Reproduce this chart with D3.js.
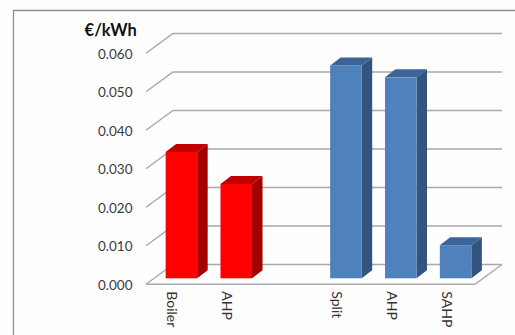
<!DOCTYPE html>
<html>
<head>
<meta charset="utf-8">
<script src="https://cdn.jsdelivr.net/npm/d3@7/dist/d3.min.js"></script>
<style>
  html, body { margin: 0; padding: 0; background: #fefefe; }
  svg { display: block; }
  text { font-family: Lato, "Open Sans", sans-serif; }
</style>
</head>
<body>
<svg id="chart" width="515" height="335"></svg>
<script>
// Cost per kWh for each system; the blank slot separates the two groups.
const slots = ["a", "b", "gap", "c", "d", "e"];
const categories = ["Boiler", "AHP", "", "Split", "AHP", "SAHP"];
const values = [0.0328, 0.0245, null, 0.0553, 0.0522, 0.0086];
const groups = ["red", "red", null, "blue", "blue", "blue"];
const yTicks = [0, 0.01, 0.02, 0.03, 0.04, 0.05, 0.06];
const unitLabel = "€/kWh";

const palette = {
  red: { front: "#ff0000", top: "#c00000", side: "#a40000" },
  blue: { front: "#4f81bd", top: "#3c6496", side: "#32547e" }
};

const svg = d3.select("#chart");

// Front plane of the oblique box, and the shift to its back wall.
const plot = { left: 146, right: 475, bottom: 284.3, top: 53.3 };
const wall = { dx: 27, dy: -19.8 };
// Where the bars stand on the floor, and how deep they are.
const barInset = { dx: 8, dy: -6 };
const barDepth = { dx: 10.5, dy: -8 };

const x = d3.scaleBand().domain(slots).range([plot.left, plot.right]).paddingInner(0.425).paddingOuter(0.2125);
const y = d3.scaleLinear().domain([0, 0.06]).range([plot.bottom, plot.top]);

// Chart frame: only the top and left edges fall inside the view.
svg.append("path")
  .attr("d", d3.line()([[515, 10.5], [13.5, 10.5], [13.5, 335]]))
  .attr("fill", "none")
  .attr("stroke", "#8f8f8f")
  .attr("stroke-width", 1.3);

// Gridlines run along the back wall and fold forward down the left side.
const gridColor = "#a8a8a8";
svg.append("g").selectAll("path").data(yTicks).join("path")
  .attr("d", d => d3.line()([
    [plot.left, y(d)],
    [plot.left + wall.dx, y(d) + wall.dy],
    [plot.right + wall.dx, y(d) + wall.dy]
  ]))
  .attr("fill", "none")
  .attr("stroke", gridColor)
  .attr("stroke-width", 1.4);

// Front and right edges of the floor.
svg.append("path")
  .attr("d", d3.line()([
    [plot.left, plot.bottom],
    [plot.right, plot.bottom],
    [plot.right + wall.dx, plot.bottom + wall.dy]
  ]))
  .attr("fill", "none")
  .attr("stroke", gridColor)
  .attr("stroke-width", 1.4);

// Extruded bars: front, top and right faces.
const bars = d3.range(slots.length).filter(i => values[i] !== null).map(i => {
  const x0 = x(slots[i]) + barInset.dx;
  const x1 = x0 + x.bandwidth();
  const yTop = y(values[i]) + barInset.dy;
  const yBase = y(0) + barInset.dy;
  return { x0, x1, yTop, yBase, colors: palette[groups[i]] };
});

const barG = svg.append("g").selectAll("g").data(bars).join("g");
barG.append("path")
  .attr("fill", d => d.colors.side)
  .attr("d", d => d3.line()([
    [d.x1, d.yTop],
    [d.x1 + barDepth.dx, d.yTop + barDepth.dy],
    [d.x1 + barDepth.dx, d.yBase + barDepth.dy],
    [d.x1, d.yBase]
  ]) + "Z");
barG.append("path")
  .attr("fill", d => d.colors.top)
  .attr("d", d => d3.line()([
    [d.x0, d.yTop],
    [d.x0 + barDepth.dx, d.yTop + barDepth.dy],
    [d.x1 + barDepth.dx, d.yTop + barDepth.dy],
    [d.x1, d.yTop]
  ]) + "Z");
barG.append("rect")
  .attr("x", d => d.x0)
  .attr("y", d => d.yTop)
  .attr("width", d => d.x1 - d.x0)
  .attr("height", d => d.yBase - d.yTop)
  .attr("fill", d => d.colors.front);

// Value axis labels.
const yAxis = svg.append("g")
  .attr("transform", `translate(${plot.left},0.5)`)
  .call(d3.axisLeft(y).tickValues(yTicks).tickFormat(d3.format(".3f")).tickSize(0).tickPadding(13.5));
yAxis.select(".domain").remove();
yAxis.selectAll("text")
  .attr("fill", "#3a3a3a")
  .style("font-size", "13.5px")
  .style("font-family", "Lato, sans-serif");

// Category labels, turned to read downward below the floor.
const xAxis = svg.append("g")
  .attr("transform", `translate(0,${plot.bottom})`)
  .call(d3.axisBottom(x).tickFormat((d, i) => categories[i]).tickSize(0));
xAxis.select(".domain").remove();
xAxis.selectAll("text")
  .attr("transform", "translate(-1.5,7) rotate(90)")
  .attr("text-anchor", "start")
  .attr("x", 0)
  .attr("y", 0)
  .attr("dy", "0.32em")
  .attr("fill", "#333333")
  .style("font-size", "14px")
  .style("font-family", "Lato, sans-serif");

// Unit caption above the value axis.
svg.append("text")
  .attr("x", 136.8)
  .attr("y", 36)
  .attr("text-anchor", "end")
  .attr("fill", "#111111")
  .style("font-size", "16.5px")
  .style("font-weight", "700")
  .text(unitLabel);
</script>
</body>
</html>
